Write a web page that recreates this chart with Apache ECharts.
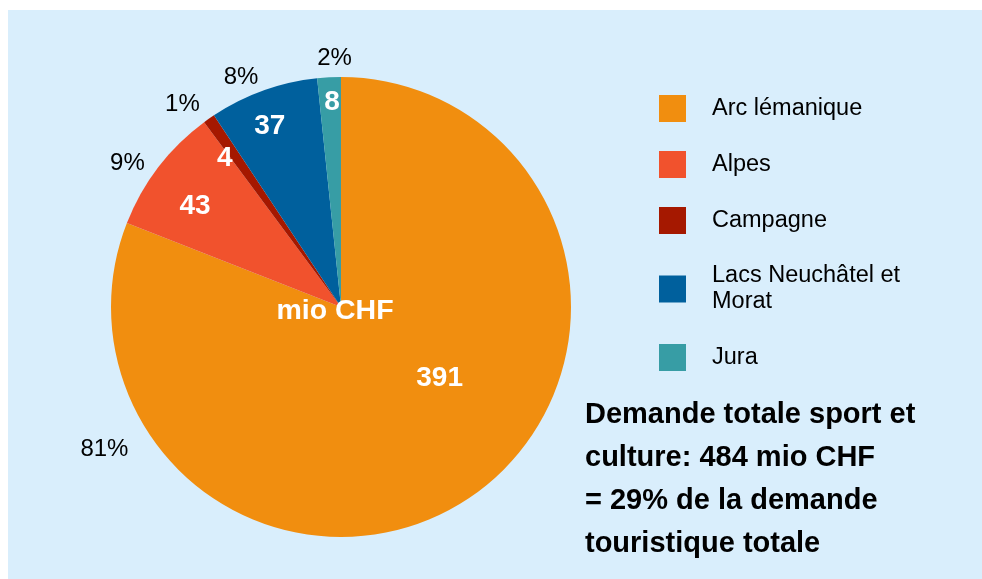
<!DOCTYPE html>
<html>
<head>
<meta charset="utf-8">
<script src="https://cdn.jsdelivr.net/npm/echarts@6/dist/echarts.min.js"></script>
<style>
  html, body { margin: 0; padding: 0; background: #fff; }
  #chart { width: 982px; height: 579px; }
</style>
</head>
<body>
<div id="chart"></div>
<script>
// regions and demand in mio CHF
const categories = ['Arc lémanique', 'Alpes', 'Campagne', 'Lacs Neuchâtel et Morat', 'Jura']
const values = [391, 43, 4, 37, 8]
const colors = ['#F18E0F', '#F1522D', '#A51800', '#00609D', '#379DA5']
const noteLines = [
  'Demande totale sport et',
  'culture: 484 mio CHF',
  '= 29% de la demande',
  'touristique totale'
]

const FONT = '"Liberation Sans", Arial, sans-serif'
const CX = 341, CY = 307, R = 230

const polar = (deg, dist) => {
  const rad = deg * Math.PI / 180
  return [CX + dist * R * Math.sin(rad), CY - dist * R * Math.cos(rad)]
}

// label placement: angle (deg, clockwise from top) and radius fraction, as in the original
const insideAngle = [126, 304.5, 322, 338.5, 357.5]
const insideDist = [0.53, 0.77, 0.82, 0.845, 0.89]
const outsideAngle = [239, 304, 322, 336.5, 358.5]
const outsideDist = [1.2, 1.12, 1.12, 1.09, 1.08]

const layoutWith = (angles, dists) => (params) => {
  const i = params.dataIndex
  const p = polar(angles[i], dists[i])
  return { x: p[0], y: p[1], align: 'center', verticalAlign: 'middle' }
}

const pieData = categories.map((name, i) => ({ name, value: values[i], itemStyle: { color: colors[i] } }))

const chart = echarts.init(document.getElementById('chart'))
chart.setOption({
  animation: false,
  backgroundColor: '#ffffff',
  graphic: [
    {
      type: 'rect',
      z: -10,
      shape: { x: 8, y: 10, width: 974, height: 569 },
      style: { fill: '#D9EEFC' }
    },
    {
      type: 'text',
      z: 100,
      x: 335, y: 311,
      style: {
        text: 'mio CHF',
        font: 'bold 28.5px ' + FONT,
        fill: '#ffffff',
        align: 'center',
        verticalAlign: 'middle'
      }
    },
    {
      type: 'text',
      x: 585, y: 393,
      style: {
        text: noteLines.join('\n'),
        font: 'bold 29px ' + FONT,
        lineHeight: 43,
        fill: '#000000',
        verticalAlign: 'top'
      }
    }
  ],
  legend: {
    orient: 'vertical',
    left: 659,
    top: 95,
    padding: 0,
    icon: 'rect',
    itemWidth: 27,
    itemHeight: 27,
    itemGap: 29,
    data: categories,
    formatter: (name) => name.replace(' et Morat', ' et\nMorat'),
    textStyle: {
      fontFamily: FONT,
      fontSize: 23.5,
      lineHeight: 26,
      color: '#000',
      padding: [0, 0, 0, 21]
    }
  },
  series: [
    {
      name: 'Demande',
      type: 'pie',
      center: [CX, CY],
      radius: R,
      startAngle: 90,
      clockwise: true,
      avoidLabelOverlap: false,
      data: pieData,
      label: {
        show: true,
        position: 'inside',
        formatter: '{c}',
        fontFamily: FONT,
        fontWeight: 'bold',
        fontSize: 28,
        color: '#ffffff'
      },
      labelLine: { show: false },
      labelLayout: layoutWith(insideAngle, insideDist),
      emphasis: { disabled: true }
    },
    {
      name: 'Parts',
      type: 'pie',
      silent: true,
      center: [CX, CY],
      radius: R,
      startAngle: 90,
      clockwise: true,
      avoidLabelOverlap: false,
      data: categories.map((name, i) => ({ name, value: values[i] })),
      itemStyle: { color: 'rgba(0,0,0,0)' },
      label: {
        show: true,
        position: 'outside',
        // plain rounding, like the source (sums to 101%)
        formatter: (p) => Math.round(p.value / values.reduce((a, b) => a + b, 0) * 100) + '%',
        fontFamily: FONT,
        fontSize: 24,
        color: '#000'
      },
      labelLine: { show: false },
      labelLayout: layoutWith(outsideAngle, outsideDist),
      emphasis: { disabled: true }
    }
  ]
})
</script>
</body>
</html>
